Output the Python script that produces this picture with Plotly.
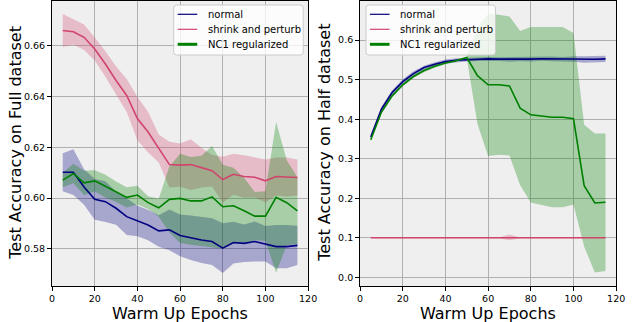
import plotly.graph_objects as go

# warm up epochs (shared x)
epochs = [5, 10, 15, 20, 25, 30, 35, 40, 45, 50, 55, 60,
          65, 70, 75, 80, 85, 90, 95, 100, 105, 110, 115]

# ---- full dataset (left panel) ----
normal_full = [0.6102, 0.6102, 0.6044, 0.5995, 0.5986, 0.5960, 0.5927, 0.5910, 0.5894, 0.5871, 0.5875, 0.5853,
               0.5844, 0.5835, 0.5829, 0.5803, 0.5825, 0.5822, 0.5829, 0.5820, 0.5809, 0.5809, 0.5814]
normal_full_std = [0.0075, 0.0090, 0.0070, 0.0080, 0.0080, 0.0065, 0.0072, 0.0060, 0.0060, 0.0062, 0.0080, 0.0082,
                   0.0088, 0.0090, 0.0092, 0.0098, 0.0082, 0.0074, 0.0079, 0.0070, 0.0085, 0.0085, 0.0077]

shrink_full = [0.6660, 0.6655, 0.6633, 0.6587, 0.6528, 0.6463, 0.6404, 0.6313, 0.6260, 0.6195, 0.6132, 0.6130,
               0.6132, 0.6120, 0.6108, 0.6073, 0.6094, 0.6085, 0.6082, 0.6068, 0.6085, 0.6083, 0.6081]
shrink_full_std = [0.0065, 0.0050, 0.0050, 0.0045, 0.0050, 0.0055, 0.0065, 0.0085, 0.0080, 0.0055, 0.0090, 0.0085,
                   0.0100, 0.0078, 0.0062, 0.0090, 0.0081, 0.0084, 0.0080, 0.0084, 0.0075, 0.0077, 0.0071]

nc1_full = [0.6071, 0.6097, 0.6060, 0.6068, 0.6047, 0.6025, 0.6003, 0.6012, 0.5982, 0.5962, 0.5995, 0.5999,
            0.5989, 0.5989, 0.6005, 0.5966, 0.5970, 0.5950, 0.5929, 0.5929, 0.6003, 0.5982, 0.5950]
nc1_full_std = [0.0028, 0.0038, 0.0048, 0.0042, 0.0045, 0.0040, 0.0040, 0.0037, 0.0025, 0.0035, 0.0130, 0.0176,
                0.0173, 0.0178, 0.0200, 0.0165, 0.0150, 0.0130, 0.0095, 0.0098, 0.0297, 0.0167, 0.0132]

# ---- half dataset (right panel) ----
normal_half = [0.355, 0.4257, 0.4675, 0.495, 0.5154, 0.5305, 0.539, 0.5457, 0.549, 0.5507, 0.5525, 0.5525,
               0.552, 0.5515, 0.5525, 0.552, 0.553, 0.5525, 0.5515, 0.5525, 0.551, 0.5515, 0.5525]
normal_half_std = [0.006, 0.006, 0.006, 0.006, 0.006, 0.005, 0.005, 0.005, 0.005, 0.005, 0.005, 0.005,
                   0.005, 0.006, 0.006, 0.006, 0.005, 0.006, 0.006, 0.007, 0.008, 0.008, 0.008]

shrink_half = [0.1, 0.1, 0.1, 0.1, 0.1, 0.1, 0.1, 0.1, 0.1, 0.1, 0.1, 0.1,
               0.1, 0.101, 0.1, 0.1, 0.1, 0.1, 0.1, 0.1, 0.1, 0.1, 0.1]
shrink_half_std = [0.001, 0.001, 0.001, 0.001, 0.001, 0.001, 0.001, 0.001, 0.001, 0.001, 0.001, 0.001,
                   0.001, 0.007, 0.001, 0.001, 0.001, 0.001, 0.001, 0.001, 0.001, 0.001, 0.001]

nc1_half = [0.348, 0.418, 0.459, 0.487, 0.508, 0.523, 0.534, 0.542, 0.548, 0.556, 0.510, 0.487,
            0.487, 0.484, 0.428, 0.411, 0.408, 0.405, 0.405, 0.401, 0.232, 0.188, 0.190]
nc1_half_std = [0.004, 0.004, 0.004, 0.004, 0.004, 0.004, 0.004, 0.003, 0.003, 0.002, 0.122, 0.180,
                0.177, 0.176, 0.195, 0.222, 0.225, 0.228, 0.228, 0.217, 0.154, 0.176, 0.174]

labels = ['normal', 'shrink and perturb', 'NC1 regularized']
colors = ['#000080', '#d1456d', '#008000']
fills = ['rgba(0,0,128,0.3)', 'rgba(209,69,109,0.3)', 'rgba(0,128,0,0.3)']
legend_widths = [1.2, 1.2, 3]

FONT = 'DejaVu Sans'
W, H = 634, 322
TOP, BOTTOM = 1, 286   # plot area rows in pixels


def px(x):
    return x / W


def py(y):
    return (BOTTOM - y) / (BOTTOM - TOP)


fig = go.Figure()


def add_panel(series, xa, ya):
    for (mean, std), fc in zip(series, fills):
        upper = [m + s for m, s in zip(mean, std)]
        lower = [m - s for m, s in zip(mean, std)]
        fig.add_trace(go.Scatter(
            x=epochs + epochs[::-1], y=upper + lower[::-1],
            fill='toself', fillcolor=fc, line=dict(width=0),
            mode='lines', hoverinfo='skip', showlegend=False,
            xaxis=xa, yaxis=ya))
    for (mean, std), col in zip(series, colors):
        fig.add_trace(go.Scatter(
            x=epochs, y=mean, mode='lines', line=dict(color=col, width=1.6),
            showlegend=False, xaxis=xa, yaxis=ya))


add_panel([(normal_full, normal_full_std), (shrink_full, shrink_full_std), (nc1_full, nc1_full_std)],
          'x', 'y')
add_panel([(normal_half, normal_half_std), (shrink_half, shrink_half_std), (nc1_half, nc1_half_std)],
          'x2', 'y2')

axis_common = dict(showline=True, linecolor='black', linewidth=1, mirror=True,
                   ticks='outside', ticklen=4, tickcolor='black',
                   showgrid=True, gridcolor='#b0b0b0', gridwidth=1, zeroline=False,
                   tickfont=dict(family=FONT, size=9.5, color='black'))

fig.update_layout(
    width=W, height=H,
    margin=dict(l=0, r=0, t=TOP, b=H - BOTTOM),
    paper_bgcolor='white', plot_bgcolor='#efefef',
    font=dict(family=FONT),
    showlegend=False,
    xaxis=dict(domain=[50 / W, 311 / W], range=[0, 120], dtick=20, anchor='y', **axis_common),
    yaxis=dict(domain=[0, 1], range=[0.5654, 0.6776], tickvals=[0.58, 0.60, 0.62, 0.64, 0.66],
               tickformat='.2f', anchor='x', **axis_common),
    xaxis2=dict(domain=[364 / W, 625 / W], range=[0, 120], dtick=20, anchor='y2', **axis_common),
    yaxis2=dict(domain=[0, 1], range=[-0.022, 0.699], dtick=0.1, tickformat='.1f',
                anchor='x2', **axis_common),
)

# matplotlib-style legend boxes drawn as shapes + text
shapes, ann = [], []


def legend_box(x0, x1, y0, y1, r=3):
    path = (f'M {px(x0 + r)},{py(y0)} L {px(x1 - r)},{py(y0)} Q {px(x1)},{py(y0)} {px(x1)},{py(y0 + r)} '
            f'L {px(x1)},{py(y1 - r)} Q {px(x1)},{py(y1)} {px(x1 - r)},{py(y1)} '
            f'L {px(x0 + r)},{py(y1)} Q {px(x0)},{py(y1)} {px(x0)},{py(y1 - r)} '
            f'L {px(x0)},{py(y0 + r)} Q {px(x0)},{py(y0)} {px(x0 + r)},{py(y0)} Z')
    shapes.append(dict(type='path', path=path, xref='paper', yref='paper', layer='above',
                       fillcolor='rgba(255,255,255,0.8)', line=dict(color='#cccccc', width=1)))
    rows = [14.3, 29.3, 44.3]
    for lab, col, w, yy in zip(labels, colors, legend_widths, rows):
        shapes.append(dict(type='line', xref='paper', yref='paper', layer='above',
                           x0=px(x0 + 4), x1=px(x0 + 24), y0=py(yy), y1=py(yy),
                           line=dict(color=col, width=w)))
        ann.append(dict(text=lab, x=px(x0 + 33), y=py(yy), xref='paper', yref='paper',
                        showarrow=False, xanchor='left', yanchor='middle',
                        font=dict(family=FONT, size=10, color='black')))


legend_box(174, 306, 5, 55)
legend_box(370, 502, 5, 55)

title_font = dict(family=FONT, size=16, color='black')
ann += [
    dict(text='Warm Up Epochs', x=px(180.5), y=py(313.5), xref='paper', yref='paper',
         showarrow=False, font=title_font, xanchor='center', yanchor='middle'),
    dict(text='Warm Up Epochs', x=px(494.5), y=py(313.5), xref='paper', yref='paper',
         showarrow=False, font=title_font, xanchor='center', yanchor='middle'),
    dict(text='Test Accuracy on Full dataset', x=px(12), y=py(143), xref='paper', yref='paper',
         showarrow=False, font=title_font, textangle=-90, xanchor='center', yanchor='middle'),
    dict(text='Test Accuracy on Half dataset', x=px(327), y=py(143), xref='paper', yref='paper',
         showarrow=False, font=title_font, textangle=-90, xanchor='center', yanchor='middle'),
]
fig.update_layout(shapes=shapes, annotations=ann)

# drop the default page margin so the figure sits at the window's corner
fig.write_html('out.html', config={'displayModeBar': False},
               post_script="document.body.style.margin='0';")
